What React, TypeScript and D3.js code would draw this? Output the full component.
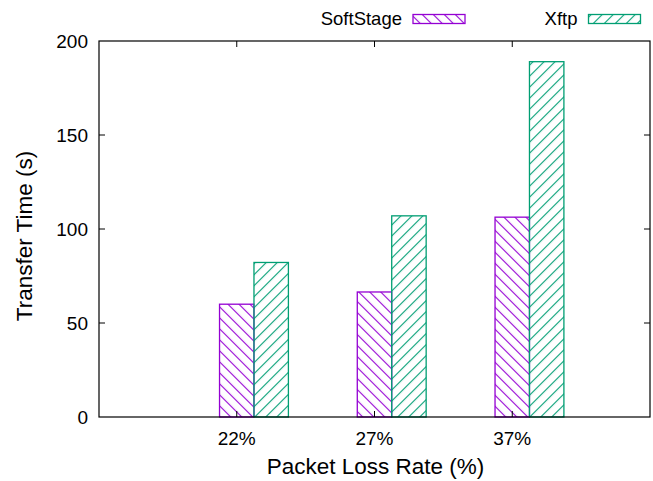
import { useEffect, useRef } from "react";
import * as d3 from "d3";

const categories = ["22%", "27%", "37%"];
const softStage = [60, 66.5, 106.3];
const xftp = [82.2, 107, 189];
const yTicks = [0, 50, 100, 150, 200];

const W = 653;
const H = 481;
const FRAME = { left: 99, right: 650, top: 41, bottom: 417 };
const PURPLE = "#9400D3";
const GREEN = "#009E73";
const FONT = "'Liberation Sans', Arial, Helvetica, sans-serif";

export default function App() {
  const svgRef = useRef<SVGSVGElement | null>(null);

  useEffect(() => {
    if (!svgRef.current) return;
    const svg = d3.select(svgRef.current);
    svg.selectAll("*").remove();

    // hatch patterns: vertical stripe rotated, 11px spacing on the vertical
    const defs = svg.append("defs");
    const step = 11 / Math.SQRT2;
    const hatch = (id: string, color: string, angle: number) => {
      const p = defs.append("pattern").attr("id", id)
        .attr("patternUnits", "userSpaceOnUse")
        .attr("width", step).attr("height", step)
        .attr("patternTransform", `rotate(${angle})`);
      p.append("rect").attr("x", 0).attr("y", 0)
        .attr("width", 1.1).attr("height", step)
        .attr("fill", color);
    };
    hatch("hatch-soft", PURPLE, -45);
    hatch("hatch-xftp", GREEN, 45);

    const x = d3.scaleLinear().domain([-1, 3]).range([FRAME.left, FRAME.right]);
    const y = d3.scaleLinear().domain([0, 200]).range([FRAME.bottom, FRAME.top]);

    const series = [
      { vals: softStage, off: -0.125, fill: "url(#hatch-soft)", color: PURPLE },
      { vals: xftp, off: 0.125, fill: "url(#hatch-xftp)", color: GREEN },
    ];

    series.forEach(s => {
      svg.append("g").selectAll("rect").data(s.vals).join("rect")
        .attr("x", (_, i) => x(i + s.off))
        .attr("y", d => y(d))
        .attr("width", x(0.25) - x(0))
        .attr("height", d => y(0) - y(d))
        .attr("fill", s.fill)
        .attr("stroke", s.color)
        .attr("stroke-width", 1.3);
    });

    // frame
    svg.append("rect")
      .attr("x", FRAME.left).attr("y", FRAME.top)
      .attr("width", FRAME.right - FRAME.left).attr("height", FRAME.bottom - FRAME.top)
      .attr("fill", "none").attr("stroke", "#000").attr("stroke-width", 1.2);

    // y ticks, both sides, inward
    yTicks.forEach(v => {
      if (v !== 0 && v !== 200) {
        svg.append("line").attr("x1", FRAME.left).attr("x2", FRAME.left + 6)
          .attr("y1", y(v)).attr("y2", y(v)).attr("stroke", "#000");
        svg.append("line").attr("x1", FRAME.right).attr("x2", FRAME.right - 6)
          .attr("y1", y(v)).attr("y2", y(v)).attr("stroke", "#000");
      }
      svg.append("text").attr("x", 88).attr("y", y(v)).attr("dy", "0.36em")
        .attr("text-anchor", "end").attr("font-size", 19).attr("font-family", FONT)
        .text(String(v));
    });

    // x ticks
    categories.forEach((c, i) => {
      svg.append("line").attr("x1", x(i)).attr("x2", x(i))
        .attr("y1", FRAME.bottom).attr("y2", FRAME.bottom - 6).attr("stroke", "#000");
      svg.append("line").attr("x1", x(i)).attr("x2", x(i))
        .attr("y1", FRAME.top).attr("y2", FRAME.top + 6).attr("stroke", "#000");
      svg.append("text").attr("x", x(i)).attr("y", 444.5)
        .attr("text-anchor", "middle").attr("font-size", 19).attr("font-family", FONT)
        .text(c);
    });

    // axis titles
    svg.append("text").attr("x", (FRAME.left + FRAME.right) / 2 + 1).attr("y", 474)
      .attr("text-anchor", "middle").attr("font-size", 22.5).attr("font-family", FONT)
      .text("Packet Loss Rate (%)");
    svg.append("text")
      .attr("transform", `translate(32,${(FRAME.top + FRAME.bottom) / 2 + 7}) rotate(-90)`)
      .attr("text-anchor", "middle").attr("font-size", 22.5).attr("font-family", FONT)
      .text("Transfer Time (s)");

    // legend
    const legend = [
      { name: "SoftStage", fill: "url(#hatch-soft)", color: PURPLE, sx: 413 },
      { name: "Xftp", fill: "url(#hatch-xftp)", color: GREEN, sx: 588.5 },
    ];
    legend.forEach(l => {
      svg.append("text").attr("x", l.sx - 11).attr("y", 25)
        .attr("text-anchor", "end").attr("font-size", 18.5).attr("font-family", FONT)
        .text(l.name);
      svg.append("rect").attr("x", l.sx).attr("y", 14.5).attr("width", 52).attr("height", 9)
        .attr("fill", l.fill).attr("stroke", l.color).attr("stroke-width", 1.3);
    });
  }, []);

  return (
    <svg ref={svgRef} width={W} height={H}
      style={{ position: "absolute", left: 0, top: 0, background: "#fff" }} />
  );
}
